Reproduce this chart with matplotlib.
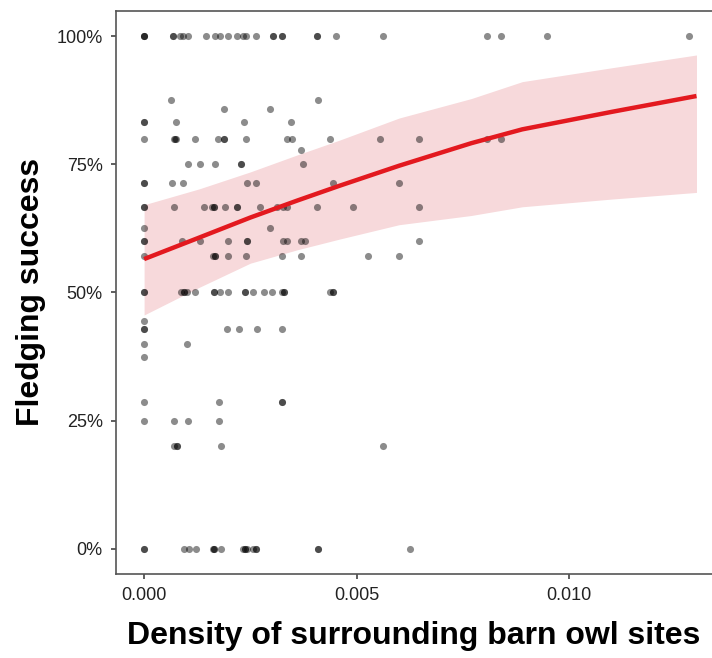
import matplotlib
matplotlib.use('Agg')
import matplotlib.pyplot as plt
from matplotlib.ticker import PercentFormatter

# fledging success (%) vs density of surrounding sites
density = [
    0, 0, 0, 0.00068, 0.00068, 0.00085, 0.00091, 0.00104, 0.00146, 0.00167, 0.00179, 0.00198,
    0.00218, 0.00233, 0.0024, 0.00263, 0.00304, 0.00304, 0.00324, 0.00324, 0.00407, 0.00407,
    0.00452, 0.00563, 0.00807, 0.0084, 0.00949, 0.01282,
    0.00064, 0.0041,
    0.00189, 0.00296,
    0, 0, 0.00074, 0.00235, 0.00346,
    0, 0.0007, 0.00073, 0.00076, 0.0012, 0.00173, 0.00189, 0.00189, 0.0024, 0.00336, 0.00347,
    0.00438, 0.00555, 0.00647, 0.00807, 0.0084,
    0.00369,
    0.00104, 0.00132, 0.00167, 0.00228, 0.00228, 0.00375,
    0, 0, 0.00066, 0.00091, 0.00242, 0.00263, 0.00445, 0.00601,
    0, 0, 0.00071, 0.00142, 0.00159, 0.00165, 0.00165, 0.0019, 0.00218, 0.00218, 0.00273,
    0.00312, 0.00328, 0.00336, 0.00406, 0.00492, 0.00647,
    0, 0.00296,
    0, 0, 0.00089, 0.00132, 0.00198, 0.00242, 0.00242, 0.00328, 0.00336, 0.00369, 0.00379, 0.00647,
    0, 0.00162, 0.00167, 0.00167, 0.00198, 0.0024, 0.00324, 0.00369, 0.00526, 0.00601,
    0, 0, 0.00087, 0.00093, 0.00093, 0.001, 0.0012, 0.00165, 0.00165, 0.00179, 0.00198, 0.00238,
    0.00238, 0.00256, 0.00283, 0.003, 0.00324, 0.00329, 0.00329, 0.00438, 0.00444, 0.00444,
    0,
    0, 0, 0.00195, 0.00224, 0.00265, 0.00324,
    0, 0.001,
    0,
    0, 0.00177, 0.00324, 0.00324,
    0, 0.00071, 0.00104, 0.00177,
    0.00071, 0.00077, 0.00077, 0.00181, 0.00563,
    0, 0, 0.00094, 0.00106, 0.00122, 0.00162, 0.00165, 0.00165, 0.00181, 0.00232, 0.00238,
    0.00238, 0.00242, 0.00256, 0.00263, 0.00263, 0.00409, 0.00409, 0.00626,
]
success = (
    [100] * 28 + [87.5] * 2 + [85.7] * 2 + [83.3] * 5 + [80] * 16 + [77.8] * 1 + [75] * 6
    + [71.4] * 8 + [66.7] * 17 + [62.5] * 2 + [60] * 12 + [57.1] * 10 + [50] * 22
    + [44.4] * 1 + [42.9] * 6 + [40] * 2 + [37.5] * 1 + [28.6] * 4 + [25] * 4 + [20] * 5
    + [0] * 19
)

# fitted curve and 95% band
fit_x = [0.0, 0.0013, 0.0025, 0.0036, 0.0046, 0.0060, 0.0077, 0.0089, 0.0110, 0.0130]
fit_y = [56.5, 60.7, 64.6, 67.9, 70.8, 74.7, 79.1, 81.8, 85.2, 88.3]
fit_lo = [45.6, 51.0, 55.7, 58.3, 60.4, 63.2, 65.0, 66.7, 68.2, 69.5]
fit_hi = [67.1, 70.2, 73.5, 76.8, 79.7, 84.0, 87.8, 91.1, 93.8, 96.3]

plt.rcParams['font.family'] = ['Liberation Sans', 'DejaVu Sans']

fig = plt.figure(figsize=(7.12, 6.58), dpi=100)
ax = fig.add_axes([0.163, 0.128, 0.837, 0.856])

ax.fill_between(fit_x, fit_lo, fit_hi, color='#f7d9db', lw=0, zorder=1)
ax.scatter(density, success, s=26, color='black', alpha=0.45, lw=0, zorder=2)
ax.plot(fit_x, fit_y, color='#e3191f', lw=3.2, zorder=3, solid_capstyle='butt')

ax.set_xlim(-0.00066, 0.013365)
ax.set_ylim(-4.87, 104.97)
ax.set_xticks([0.0, 0.005, 0.010])
ax.set_xticklabels(['0.000', '0.005', '0.010'])
ax.set_yticks([0, 25, 50, 75, 100])
ax.yaxis.set_major_formatter(PercentFormatter(decimals=0))

for s in ['left', 'bottom', 'top']:
    ax.spines[s].set_color('#555555')
    ax.spines[s].set_linewidth(1.2)
ax.spines['right'].set_visible(False)
ax.tick_params(length=3.5, width=1.1, color='#333333', labelsize=13, labelcolor='#222222', pad=6)

ax.set_xlabel('Density of surrounding barn owl sites', fontsize=23, fontweight='bold', labelpad=12)
ax.set_ylabel('Fledging success', fontsize=23, fontweight='bold', labelpad=8)

fig.savefig('out.png', dpi=100)
